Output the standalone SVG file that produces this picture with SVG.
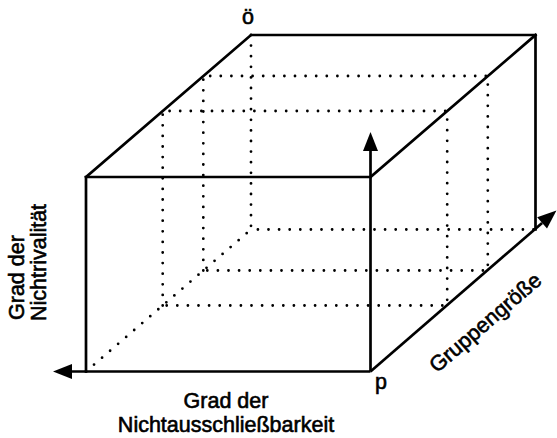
<svg xmlns="http://www.w3.org/2000/svg" width="557" height="438" viewBox="0 0 557 438">
<style>
.s{fill:none;stroke:#000;stroke-width:2.7;stroke-linejoin:miter;stroke-linecap:square}
.d{fill:none;stroke:#000;stroke-width:2.8;stroke-linecap:round;stroke-dasharray:0 10.6}
.t{font-family:"Liberation Sans",Arial,sans-serif;font-size:21.5px;fill:#000;stroke:#000;stroke-width:0.6}
.a{fill:none;stroke:#000;stroke-width:2.7}
</style>
<defs>
<marker id="ah" markerUnits="userSpaceOnUse" viewBox="0 -8 19 16" refX="0" refY="0" markerWidth="19" markerHeight="16" orient="auto" overflow="visible">
<path d="M0,-7.5 L19,0 L0,7.5 Z" fill="#000"/>
</marker>
</defs>
<rect width="557" height="438" fill="#fff"/>
<g id="hidden">
<path class="d" d="M86,371.5 L251,229.5"/>
<path class="d" d="M162.7,305.5 V111 H447.2 V305.5 Z"/>
<path class="d" d="M203.3,270.5 V76 H487.8 V270.5 Z"/>
<path class="d" d="M251,35 V229.5 H535.5"/>
</g>
<g id="cube">
<path class="s" d="M86,371.5 V177 H370.5"/>
<path class="s" d="M86,177 L251,35 H535.5 V229.5"/>
<path class="s" d="M370.5,177 L535.5,35"/>
</g>
<g id="connectors">
<path class="a" d="M370.5,371.5 H72" marker-end="url(#ah)"/>
<path class="a" d="M370.5,371.5 V151" marker-end="url(#ah)"/>
<path class="a" d="M370.5,371.5 L542.1,222.9" marker-end="url(#ah)"/>
</g>
<g id="labels">
<text class="t" x="248" y="24" text-anchor="middle" font-size="18">ö</text>
<text class="t" x="381" y="389" text-anchor="middle" font-size="18">p</text>
<text class="t" x="226" y="408" text-anchor="middle">Grad der</text>
<text class="t" x="226" y="432" text-anchor="middle">Nichtausschließbarkeit</text>
<text class="t" transform="translate(24,320) rotate(-90)">Grad der</text>
<text class="t" transform="translate(46,321) rotate(-90)">Nichtrivalität</text>
<text class="t" transform="translate(490,328) rotate(-40.7)" text-anchor="middle" font-size="22">Gruppengröße</text>
</g>
</svg>
